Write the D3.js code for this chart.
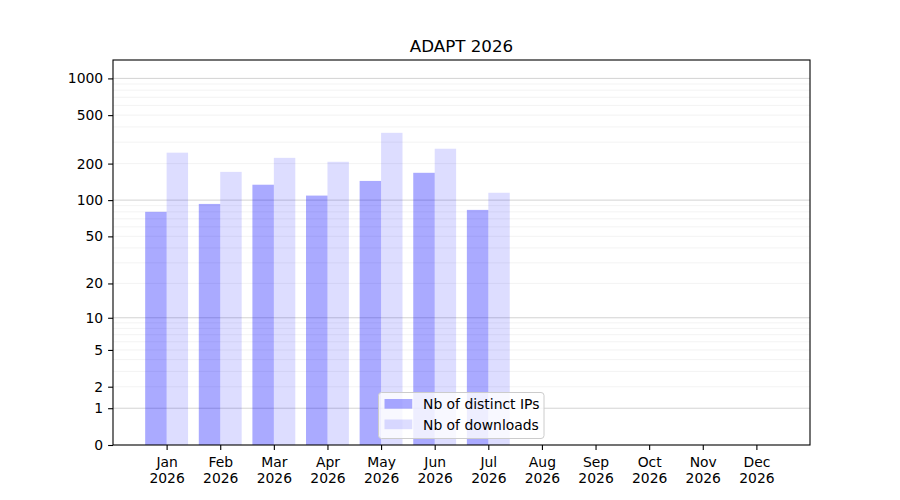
<!DOCTYPE html>
<html>
<head>
<meta charset="utf-8">
<script src="https://cdn.jsdelivr.net/npm/d3@7"></script>
<style>
  body { margin: 0; background: #fff; }
  text { font-family: "DejaVu Sans", sans-serif; fill: #000; }
</style>
</head>
<body>
<svg id="chart" width="900" height="500"></svg>
<script>
// chart values
var months = ['Jan', 'Feb', 'Mar', 'Apr', 'May', 'Jun', 'Jul', 'Aug', 'Sep', 'Oct', 'Nov', 'Dec']
var year = '2026'
var distinctIPs = [80, 93, 134, 109, 144, 168, 83]
var downloads = [246, 171, 223, 207, 358, 265, 115]
var yTicks = [0, 1, 2, 5, 10, 20, 50, 100, 200, 500, 1000]
var majorGrid = [1, 10, 100, 1000]
var minorGrid = [1, 10, 100].flatMap(function(d) {
    return [2, 3, 4, 5, 6, 7, 8, 9].map(function(k) { return k * d })
})
var seriesNames = ['Nb of distinct IPs', 'Nb of downloads']

// plot box (window.top is read-only, so no bare "top")
var plotLeft = 113, plotRight = 810, plotTop = 60, plotBottom = 445
var svg = d3.select('#chart')

var x = d3.scaleLinear().domain([-1, months.length]).range([plotLeft, plotRight])
var y = d3.scaleSymlog().constant(1).domain([0, 1415]).range([plotBottom, plotTop])
var halfW = 0.4

// grid
svg.append('g')
    .selectAll('line')
    .data(minorGrid)
    .enter()
    .append('line')
    .attr('x1', plotLeft).attr('x2', plotRight)
    .attr('y1', function(d) { return y(d) })
    .attr('y2', function(d) { return y(d) })
    .attr('stroke', '#b0b0b0')
    .attr('stroke-opacity', 0.2)
    .attr('stroke-width', 0.8)
svg.append('g')
    .selectAll('line')
    .data(majorGrid)
    .enter()
    .append('line')
    .attr('x1', plotLeft).attr('x2', plotRight)
    .attr('y1', function(d) { return y(d) })
    .attr('y2', function(d) { return y(d) })
    .attr('stroke', '#b0b0b0')
    .attr('stroke-opacity', 0.7)
    .attr('stroke-width', 0.8)

// bars
svg.append('g')
    .selectAll('rect')
    .data(distinctIPs)
    .enter()
    .append('rect')
    .attr('x', function(d, i) { return x(i - halfW) })
    .attr('width', function(d, i) { return x(i) - x(i - halfW) })
    .attr('y', function(d) { return y(d) })
    .attr('height', function(d) { return y(0) - y(d) })
    .attr('fill', 'blue')
    .attr('fill-opacity', 0.333)
svg.append('g')
    .selectAll('rect')
    .data(downloads)
    .enter()
    .append('rect')
    .attr('x', function(d, i) { return x(i) })
    .attr('width', function(d, i) { return x(i + halfW) - x(i) })
    .attr('y', function(d) { return y(d) })
    .attr('height', function(d) { return y(0) - y(d) })
    .attr('fill', 'blue')
    .attr('fill-opacity', 0.133)

// axes
var yAxis = svg.append('g')
    .attr('transform', 'translate(' + plotLeft + ',0)')
    .call(d3.axisLeft(y).tickValues(yTicks).tickFormat(d3.format('d')).tickSize(4.9).tickPadding(4.9))
var xAxis = svg.append('g')
    .attr('transform', 'translate(0,' + plotBottom + ')')
    .call(d3.axisBottom(x).tickValues(d3.range(months.length)).tickFormat('').tickSize(4.9))
;[yAxis, xAxis].forEach(function(g) {
    g.select('.domain').remove()
    g.selectAll('.tick line').attr('stroke', '#000').attr('stroke-width', 1.1)
    g.selectAll('.tick text').style('font-size', '13.9px').style('font-family', '"DejaVu Sans", sans-serif')
})
xAxis.selectAll('.tick').each(function(d) {
    var t = d3.select(this).append('text')
        .attr('text-anchor', 'middle')
        .style('font-size', '13.9px')
    t.append('tspan').attr('x', 0).attr('y', 21.5).text(months[d])
    t.append('tspan').attr('x', 0).attr('y', 37.5).text(year)
})

// frame
svg.append('rect')
    .attr('x', plotLeft).attr('y', plotTop)
    .attr('width', plotRight - plotLeft).attr('height', plotBottom - plotTop)
    .attr('fill', 'none')
    .attr('stroke', '#000')
    .attr('stroke-width', 1.1)

// title
svg.append('text')
    .attr('x', (plotLeft + plotRight) / 2)
    .attr('y', 52)
    .attr('text-anchor', 'middle')
    .style('font-size', '16.7px')
    .text('ADAPT ' + year)

// legend
var legend = svg.append('g').attr('transform', 'translate(378.5,392.5)')
legend.append('rect')
    .attr('width', 165.5).attr('height', 46)
    .attr('rx', 3)
    .attr('fill', '#fff').attr('fill-opacity', 0.8)
    .attr('stroke', '#cccccc').attr('stroke-width', 1)
var legendRows = legend.selectAll('g.row')
    .data(seriesNames)
    .enter()
    .append('g')
    .attr('class', 'row')
    .attr('transform', function(d, i) { return 'translate(0,' + (11.5 + i * 20.5) + ')' })
legendRows.append('rect')
    .attr('x', 6).attr('y', -5)
    .attr('width', 27.8).attr('height', 9.7)
    .attr('fill', 'blue')
    .attr('fill-opacity', function(d, i) { return i == 0 ? 0.333 : 0.133 })
legendRows.append('text')
    .attr('x', 44.5)
    .attr('y', 5)
    .style('font-size', '13.9px')
    .text(function(d) { return d })
</script>
</body>
</html>
